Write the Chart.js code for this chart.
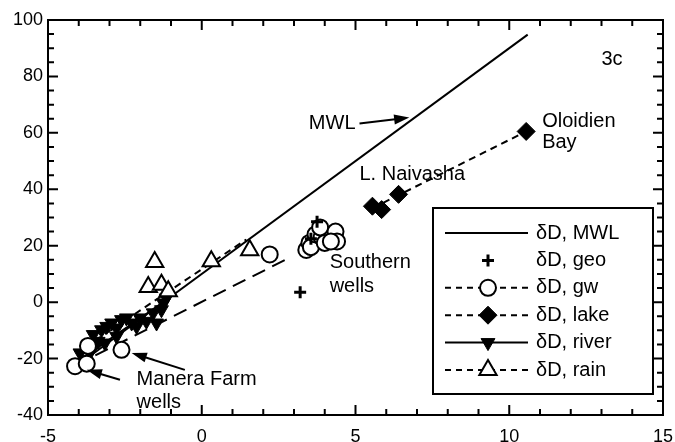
<!DOCTYPE html>
<html>
<head>
<meta charset="utf-8">
<script src="https://cdn.jsdelivr.net/npm/chart.js@4.4.1/dist/chart.umd.min.js"></script>
<style>
  html, body { margin: 0; padding: 0; background: #fff; }
  #wrap { width: 675px; height: 442px; }
</style>
</head>
<body>
<div id="wrap"><canvas id="chart" width="675" height="442"></canvas></div>
<script>
// axis ticks
const xTicks = [-5, 0, 5, 10, 15];
const yTicks = [-40, -20, 0, 20, 40, 60, 80, 100];

// measured points (d18O, dD)
const geoPts = [[3.2, 3.5], [3.75, 28.5], [3.55, 22.5]];
const gwPts = [[-4.12, -22.7], [-3.74, -21.8], [-3.7, -15.5], [-2.61, -16.9], [2.21, 16.9],
  [3.4, 18.5], [3.5, 21], [3.55, 19.5], [3.7, 24], [3.9, 23], [4.0, 21],
  [3.85, 26.5], [4.35, 25], [4.4, 21.5], [4.2, 21.5]];
const lakePts = [[5.55, 34], [5.85, 32.8], [6.4, 38.2], [10.55, 60.5]];
const riverPts = [[-3.96, -18], [-3.8, -20.4], [-3.69, -15.1], [-3.64, -18], [-3.53, -11.5],
  [-3.37, -13.9], [-3.26, -9.8], [-3.15, -14.5], [-3.09, -8.6], [-2.93, -7.4],
  [-2.77, -9.2], [-2.77, -12.1], [-2.61, -6.2], [-2.45, -5.6], [-2.28, -7.4],
  [-2.12, -8.6], [-2.01, -5.6], [-1.8, -6.8], [-1.58, -3.8], [-1.47, -7.4],
  [-1.31, -2.7], [-1.25, -0.3], [-1.15, 1.5]];
const rainPts = [[-1.53, 14.2], [-1.74, 5.4], [-1.31, 6.2], [-1.09, 3.9], [0.31, 14.5], [1.56, 18.4]];

// fitted lines (end points)
const mwlLine = [[-4, -22], [10.6, 94.8]];
const gwLine = [[-4.1, -22.4], [2.7, 14.9]];
const lakeLine = [[5.55, 33.3], [10.55, 60.5]];
const riverLine = [[-3.9, -20], [-1.2, 0.4]];
const rainLine = [[-3.8, -16], [1.45, 22.2]];

// text labels and arrows, in data units
const labels = [
  {text: 'MWL', x: 5.0, y: 63.2, align: 'right'},
  {text: '3c', x: 13.34, y: 86, align: 'center'},
  {text: 'Oloidien', x: 11.07, y: 64.2, align: 'left'},
  {text: 'Bay', x: 11.07, y: 56.5, align: 'left'},
  {text: 'L. Naivasha', x: 5.13, y: 45.1, align: 'left'},
  {text: 'Southern', x: 4.16, y: 13.9, align: 'left'},
  {text: 'wells', x: 4.16, y: 5.6, align: 'left'},
  {text: 'Manera Farm', x: -2.12, y: -27.5, align: 'left'},
  {text: 'wells', x: -2.12, y: -35.5, align: 'left'},
];
const arrows = [
  {from: [5.13, 63.3], to: [6.75, 65.4]},
  {from: [-0.55, -24], to: [-2.28, -18]},
  {from: [-2.66, -27.5], to: [-3.74, -24]},
];

const FONT = '"Liberation Sans", Arial, Helvetica, sans-serif';
const toXY = arr => arr.map(p => ({x: p[0], y: p[1]}));

function lineSet(pts, dash, label){
  return {
    label: label || '', data: toXY(pts), showLine: true, pointRadius: 0,
    borderColor: '#000', borderWidth: 2, borderDash: dash, order: 10,
  };
}

const datasets = [
  {label: 'δD, MWL', data: toXY(mwlLine), showLine: true, pointRadius: 0,
    borderColor: '#000', borderWidth: 2, order: 10, legendLine: []},
  {label: 'δD, geo', data: toXY(geoPts), pointStyle: 'cross', pointRadius: 6,
    borderColor: '#000', pointBorderWidth: 3, order: 1, legendLine: null},
  {label: 'δD, gw', data: toXY(gwPts), pointStyle: 'circle', pointRadius: 8,
    backgroundColor: '#fff', borderColor: '#000', pointBorderWidth: 2, order: 2, legendLine: [6, 5]},
  {label: 'δD, lake', data: toXY(lakePts), pointStyle: 'rectRot', pointRadius: 9,
    backgroundColor: '#000', borderColor: '#000', pointBorderWidth: 1, order: 1, legendLine: [6, 5]},
  {label: 'δD, river', data: toXY(riverPts), pointStyle: 'triangle', pointRotation: 180, pointRadius: 8,
    backgroundColor: '#000', borderColor: '#000', pointBorderWidth: 1, order: 3, legendLine: []},
  {label: 'δD, rain', data: toXY(rainPts), pointStyle: 'triangle', pointRadius: 10,
    backgroundColor: '#fff', borderColor: '#000', pointBorderWidth: 2, order: 1, legendLine: [6, 5]},
  lineSet(gwLine, [14, 8]),
  lineSet(lakeLine, [7, 5]),
  lineSet(riverLine, []),
  lineSet(rainLine, [7, 5]),
];
const legendCount = 6;

// inward ticks and frame
const framePlugin = {
  id: 'frame',
  afterDraw(chart){
    const {ctx, chartArea: a, scales: {x, y}} = chart;
    ctx.save();
    ctx.strokeStyle = '#000';
    ctx.lineWidth = 2;
    ctx.strokeRect(a.left, a.top, a.right - a.left, a.bottom - a.top);
    ctx.beginPath();
    for(let v = xTicks[0]; v <= xTicks[xTicks.length-1]; v += 1){
      const len = xTicks.includes(v) ? 10 : 6;
      const px = x.getPixelForValue(v);
      ctx.moveTo(px, a.bottom); ctx.lineTo(px, a.bottom - len);
      ctx.moveTo(px, a.top); ctx.lineTo(px, a.top + len);
    }
    for(let v = yTicks[0]; v <= yTicks[yTicks.length-1]; v += 5){
      const len = yTicks.includes(v) ? 10 : 6;
      const py = y.getPixelForValue(v);
      ctx.moveTo(a.left, py); ctx.lineTo(a.left + len, py);
      ctx.moveTo(a.right, py); ctx.lineTo(a.right - len, py);
    }
    ctx.stroke();
    ctx.restore();
  }
};

// labels and arrows
const notesPlugin = {
  id: 'notes',
  afterDatasetsDraw(chart){
    const {ctx, scales: {x, y}} = chart;
    ctx.save();
    ctx.fillStyle = '#000';
    ctx.strokeStyle = '#000';
    ctx.font = '20px ' + FONT;
    ctx.textBaseline = 'middle';
    labels.forEach(l => {
      ctx.textAlign = l.align;
      ctx.fillText(l.text, x.getPixelForValue(l.x), y.getPixelForValue(l.y));
    });
    arrows.forEach(ar => {
      const x1 = x.getPixelForValue(ar.from[0]), y1 = y.getPixelForValue(ar.from[1]);
      const x2 = x.getPixelForValue(ar.to[0]), y2 = y.getPixelForValue(ar.to[1]);
      const ang = Math.atan2(y2 - y1, x2 - x1);
      ctx.lineWidth = 2;
      ctx.beginPath();
      ctx.moveTo(x1, y1);
      ctx.lineTo(x2 - Math.cos(ang) * 10, y2 - Math.sin(ang) * 10);
      ctx.stroke();
      ctx.beginPath();
      ctx.moveTo(x2, y2);
      ctx.lineTo(x2 - Math.cos(ang - 0.32) * 16, y2 - Math.sin(ang - 0.32) * 16);
      ctx.lineTo(x2 - Math.cos(ang + 0.32) * 16, y2 - Math.sin(ang + 0.32) * 16);
      ctx.closePath();
      ctx.fill();
    });
    ctx.restore();
  }
};

// legend box inside the plot
const legendPlugin = {
  id: 'boxLegend',
  afterDraw(chart){
    const {ctx, chartArea: a} = chart;
    const w = 220, h = 186;
    const left = a.right - 10 - w, top = a.bottom - 21 - h;
    ctx.save();
    ctx.fillStyle = '#fff';
    ctx.fillRect(left, top, w, h);
    ctx.strokeStyle = '#000';
    ctx.lineWidth = 2;
    ctx.strokeRect(left, top, w, h);
    ctx.font = '20px ' + FONT;
    ctx.textBaseline = 'middle';
    ctx.textAlign = 'left';
    for(let i = 0; i < legendCount; i++){
      const ds = chart.data.datasets[i];
      const cy = top + 25 + i * 27.4;
      if(ds.legendLine){
        ctx.setLineDash(ds.legendLine);
        ctx.lineWidth = 2;
        ctx.beginPath();
        ctx.moveTo(left + 12, cy); ctx.lineTo(left + 95, cy);
        ctx.stroke();
        ctx.setLineDash([]);
      }
      if(ds.pointRadius > 0 && Chart.helpers && Chart.helpers.drawPoint){
        ctx.fillStyle = ds.backgroundColor || '#000';
        ctx.strokeStyle = '#000';
        ctx.lineWidth = ds.pointBorderWidth;
        Chart.helpers.drawPoint(ctx, {
          pointStyle: ds.pointStyle, radius: ds.pointRadius,
          rotation: ds.pointRotation || 0, borderWidth: ds.pointBorderWidth,
        }, left + 55, cy);
      }
      ctx.fillStyle = '#000';
      ctx.fillText(ds.label, left + 103, cy);
    }
    ctx.restore();
  }
};

new Chart(document.getElementById('chart'), {
  type: 'scatter',
  data: {datasets},
  options: {
    responsive: false,
    animation: false,
    layout: {padding: {top: 20, right: 11, left: 0, bottom: 0}},
    plugins: {legend: {display: false}, tooltip: {enabled: false}},
    scales: {
      x: {
        type: 'linear', min: xTicks[0], max: xTicks[xTicks.length-1],
        afterBuildTicks: s => { s.ticks = xTicks.map(v => ({value: v})); },
        grid: {display: false, drawTicks: false}, border: {display: false},
        ticks: {color: '#000', font: {size: 18, family: FONT}, padding: 11, maxRotation: 0},
        afterFit: s => { s.height = 27; s.paddingLeft = 0; s.paddingRight = 0; },
      },
      y: {
        type: 'linear', min: yTicks[0], max: yTicks[yTicks.length-1],
        afterBuildTicks: s => { s.ticks = yTicks.map(v => ({value: v})); },
        grid: {display: false, drawTicks: false}, border: {display: false},
        ticks: {color: '#000', font: {size: 18, family: FONT}, padding: 5},
        afterFit: s => { s.width = 48; s.paddingTop = 0; s.paddingBottom = 0; },
      }
    }
  },
  plugins: [framePlugin, notesPlugin, legendPlugin]
});
</script>
</body>
</html>
